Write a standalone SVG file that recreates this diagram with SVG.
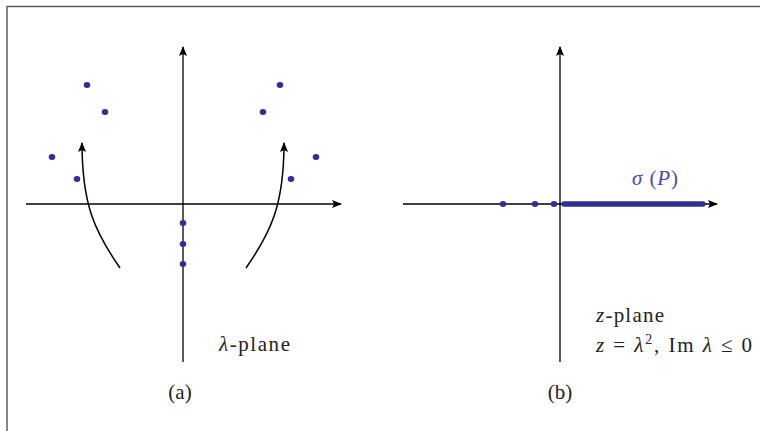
<svg xmlns="http://www.w3.org/2000/svg" width="760" height="431" viewBox="0 0 760 431">
<defs>
<marker id="ah" markerWidth="10" markerHeight="8" refX="9" refY="4" orient="auto" markerUnits="userSpaceOnUse">
<path d="M0,0 L10,4 L0,8 L2,4 Z" fill="#000"/>
</marker>
</defs>
<style>
.ax{stroke:#000;stroke-width:1.3;fill:none}
.cv{stroke:#000;stroke-width:1.5;fill:none}
.dot{fill:#2e3192}
text{font-family:'Liberation Serif','DejaVu Serif',serif;font-size:21px;fill:#222}
.it{font-style:italic}
.blue{fill:#4a4aa8}
</style>
<rect x="7" y="6.5" width="800" height="500" fill="none" stroke="#555" stroke-width="1.4"/>
<g id="connectors">
<line class="ax" x1="26" y1="204" x2="341" y2="204" marker-end="url(#ah)"/>
<line class="ax" x1="183" y1="362" x2="183" y2="47" marker-end="url(#ah)"/>
<path class="cv" d="M120,268 C95,232 82,205 82,143" marker-end="url(#ah)"/>
<path class="cv" d="M246,268 C271,232 284,205 284,143" marker-end="url(#ah)"/>
<line class="ax" x1="403" y1="204" x2="717" y2="204" marker-end="url(#ah)"/>
<line class="ax" x1="560" y1="362" x2="560" y2="47" marker-end="url(#ah)"/>
</g>
<g id="lambda-plane">
<ellipse class="dot" cx="87" cy="85" rx="3.3" ry="3"/>
<ellipse class="dot" cx="105" cy="112" rx="3.3" ry="3"/>
<ellipse class="dot" cx="52" cy="157" rx="3.3" ry="3"/>
<ellipse class="dot" cx="77" cy="179" rx="3.3" ry="3"/>
<ellipse class="dot" cx="280" cy="85" rx="3.3" ry="3"/>
<ellipse class="dot" cx="263" cy="112" rx="3.3" ry="3"/>
<ellipse class="dot" cx="316" cy="157" rx="3.3" ry="3"/>
<ellipse class="dot" cx="291" cy="179" rx="3.3" ry="3"/>
<ellipse class="dot" cx="183" cy="223" rx="3.3" ry="3"/>
<ellipse class="dot" cx="183" cy="244" rx="3.3" ry="3"/>
<ellipse class="dot" cx="183" cy="264" rx="3.3" ry="3"/>
<text x="219" y="351" textLength="71" lengthAdjust="spacing"><tspan class="it">λ</tspan>-plane</text>
<text x="180" y="399" text-anchor="middle">(a)</text>
</g>
<g id="z-plane">
<ellipse class="dot" cx="503" cy="204" rx="3.3" ry="3"/>
<ellipse class="dot" cx="535" cy="204" rx="3.3" ry="3"/>
<ellipse class="dot" cx="554" cy="204" rx="3.3" ry="3"/>
<line x1="564" y1="204" x2="703" y2="204" stroke="#2e3192" stroke-width="5.5" stroke-linecap="round"/>
<text class="blue" x="632" y="185" textLength="46" lengthAdjust="spacing"><tspan class="it">σ</tspan> (<tspan class="it">P</tspan>)</text>
<text x="596" y="322" textLength="68" lengthAdjust="spacing"><tspan class="it">z</tspan>-plane</text>
<text x="596" y="352" xml:space="preserve" textLength="156" lengthAdjust="spacing"><tspan class="it">z</tspan> = <tspan class="it">λ</tspan><tspan dy="-8" font-size="14">2</tspan><tspan dy="8">, Im </tspan><tspan class="it">λ</tspan> ≤ 0</text>
<text x="560" y="399" text-anchor="middle">(b)</text>
</g>
</svg>
